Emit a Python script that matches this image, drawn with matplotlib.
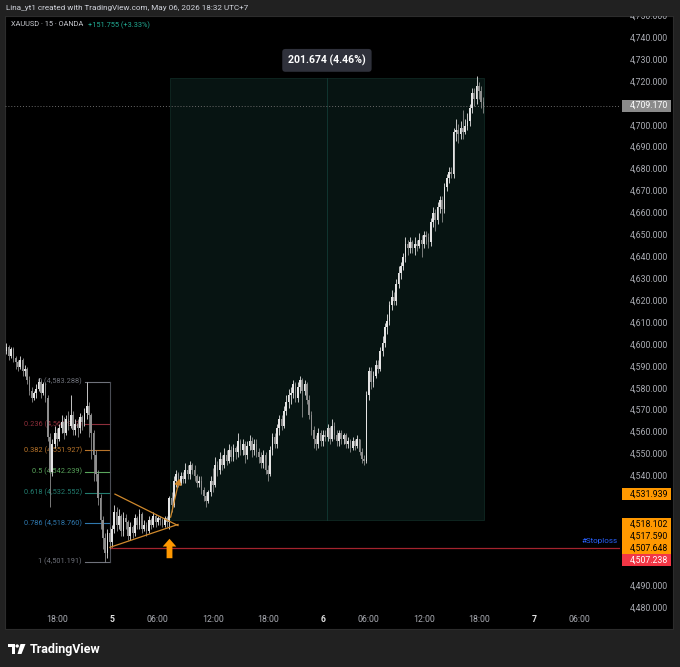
import numpy as np
import matplotlib
matplotlib.use("Agg")
import matplotlib.pyplot as plt
from matplotlib.patches import Rectangle, Polygon, Circle
from matplotlib.path import Path

plt.rcParams['font.family'] = ['Roboto', 'DejaVu Sans']

# ------------------------------------
# data: XAUUSD 15m candles
# ------------------------------------
first_open = 4596
closes = [
    4597, 4599, 4595, 4598, 4594, 4592, 4590, 4593, 4588, 4589,
    4584, 4579, 4576, 4578, 4580, 4583, 4578, 4582, 4576, 4558,
    4542, 4555, 4560, 4557, 4562, 4565, 4560, 4566, 4563, 4568,
    4561, 4564, 4562, 4567, 4565, 4569, 4572, 4568, 4560, 4550,
    4541, 4530, 4520, 4512, 4505, 4514, 4510, 4516, 4524, 4518,
    4522, 4515, 4521, 4519, 4513, 4517, 4514, 4521, 4518, 4523,
    4516, 4518, 4515, 4520, 4518, 4522, 4519, 4521, 4520, 4518,
    4521, 4519, 4530, 4527, 4538, 4541, 4537, 4540, 4539, 4543,
    4541, 4545, 4543, 4540, 4537, 4538, 4534, 4531, 4529, 4533,
    4538, 4536, 4545, 4543, 4548, 4545, 4550, 4547, 4552, 4549,
    4553, 4551, 4556, 4552, 4555, 4550, 4554, 4556, 4552, 4555,
    4551, 4549, 4546, 4550, 4543, 4541, 4552, 4558, 4555, 4562,
    4566, 4563, 4570, 4574, 4577, 4578, 4582, 4576, 4581, 4584,
    4579, 4582, 4575, 4568, 4561, 4557, 4555, 4560, 4556, 4559,
    4558, 4562, 4557, 4563, 4559, 4556, 4560, 4557, 4559, 4555,
    4556, 4553, 4556, 4554, 4557, 4551, 4548, 4547, 4577, 4588,
    4583, 4586, 4591, 4589, 4597, 4601, 4608, 4611, 4618, 4622,
    4620, 4628, 4633, 4636, 4640, 4646, 4644, 4647, 4644, 4646,
    4645, 4648, 4646, 4650, 4649, 4647, 4656, 4660, 4657, 4663,
    4666, 4662, 4672, 4676, 4679, 4678, 4697, 4698, 4696, 4699,
    4697, 4700, 4702, 4708, 4715, 4712, 4718, 4716, 4711, 4709.17,
]
highs = [
    4599, 4601, 4600, 4599, 4599, 4595, 4593, 4595, 4594, 4591,
    4590, 4586, 4581, 4579, 4582, 4585, 4584, 4583, 4583, 4577,
    4560, 4557, 4563, 4562, 4564, 4568, 4567, 4568, 4570, 4577,
    4570, 4566, 4566, 4569, 4568, 4571, 4583.29, 4574, 4569, 4561,
    4552, 4543, 4532, 4522, 4514, 4516, 4517, 4518, 4527, 4526,
    4525, 4523, 4524, 4523, 4520, 4519, 4518, 4523, 4522, 4525,
    4524, 4520, 4519, 4522, 4521, 4524, 4523, 4522, 4522, 4521,
    4522, 4522, 4531, 4533, 4540, 4543, 4542, 4542, 4542, 4546,
    4545, 4547, 4546, 4545, 4541, 4540, 4540, 4535, 4533, 4534,
    4540, 4544, 4549, 4547, 4551, 4550, 4553, 4552, 4555, 4554,
    4555, 4554, 4560, 4557, 4557, 4556, 4556, 4559, 4558, 4557,
    4557, 4553, 4551, 4552, 4551, 4545, 4554, 4560, 4560, 4564,
    4568, 4568, 4572, 4577, 4580, 4581, 4584, 4583, 4583, 4586,
    4585, 4584, 4583, 4577, 4570, 4563, 4559, 4562, 4561, 4561,
    4561, 4564, 4563, 4566, 4565, 4561, 4561, 4561, 4560, 4560,
    4558, 4557, 4558, 4557, 4559, 4557, 4553, 4550, 4579, 4590,
    4590, 4588, 4593, 4593, 4599, 4604, 4610, 4614, 4620, 4625,
    4624, 4630, 4636, 4638, 4642, 4649, 4648, 4649, 4648, 4649,
    4648, 4651, 4650, 4652, 4652, 4651, 4658, 4663, 4662, 4665,
    4668, 4668, 4674, 4678, 4681, 4681, 4699, 4703, 4701, 4702,
    4707, 4703, 4706, 4710, 4717, 4717, 4722.5, 4720, 4718, 4713,
]
lows = [
    4594, 4596, 4593, 4594, 4592, 4589, 4588, 4589, 4586, 4586,
    4582, 4577, 4574, 4575, 4576, 4579, 4576, 4577, 4574, 4556,
    4526, 4540, 4553, 4554, 4556, 4560, 4557, 4559, 4561, 4562,
    4559, 4559, 4558, 4560, 4561, 4563, 4566, 4558, 4548, 4538,
    4538, 4527, 4516, 4507, 4501.19, 4503, 4507, 4508, 4514, 4515,
    4516, 4513, 4513, 4516, 4511, 4511, 4512, 4513, 4516, 4516,
    4514, 4515, 4513, 4514, 4516, 4517, 4517, 4518, 4518, 4517,
    4517, 4517, 4516, 4524, 4526, 4535, 4535, 4536, 4537, 4537,
    4539, 4539, 4541, 4538, 4535, 4535, 4532, 4529, 4526, 4528,
    4531, 4533, 4535, 4540, 4541, 4543, 4544, 4545, 4546, 4547,
    4547, 4548, 4549, 4550, 4550, 4546, 4548, 4552, 4549, 4550,
    4549, 4546, 4544, 4544, 4541, 4538, 4540, 4550, 4553, 4553,
    4559, 4561, 4562, 4568, 4571, 4573, 4576, 4574, 4574, 4578,
    4567, 4577, 4573, 4566, 4559, 4553, 4552, 4553, 4554, 4554,
    4556, 4556, 4555, 4556, 4557, 4554, 4554, 4555, 4555, 4553,
    4553, 4551, 4552, 4552, 4553, 4550, 4546, 4545, 4546, 4575,
    4580, 4581, 4585, 4587, 4588, 4595, 4599, 4605, 4609, 4616,
    4618, 4618, 4626, 4630, 4634, 4638, 4641, 4642, 4642, 4641,
    4643, 4644, 4640, 4644, 4646, 4644, 4645, 4654, 4652, 4655,
    4660, 4656, 4660, 4670, 4674, 4676, 4676, 4693, 4692, 4694,
    4694, 4696, 4698, 4700, 4706, 4709, 4710, 4712, 4708, 4706,
]

# time axis labels (bar index, text)
tick_bars = [23, 47, 67, 91, 115, 139, 159, 183, 207, 231, 251]
tick_labels = ["18:00", "5", "06:00", "12:00", "18:00", "6", "06:00", "12:00", "18:00", "7", "06:00"]
day_labels = {"5", "6", "7"}

# fibonacci retracement
fib_high = 4583.288
fib_low = 4501.191
fib_ratios = [0, 0.236, 0.382, 0.5, 0.618, 0.786, 1]
fib_colors = ["#6f727b", "#8e2f3b", "#b8742a", "#5aa65c", "#237d70", "#2f78ae", "#6f727b"]

# price range measurement
range_low = 4520.035
range_high = 4721.709
range_start, range_end = 72.3, 209.2

# triangle pattern + projection
tri_upper = ([48.3, 75.8], [4531.939, 4517.590])
tri_lower = ([46.1, 75.8], [4507.648, 4518.102])
proj_line = ([72.3, 76.7], [4520.1, 4540.2])
signal_bar = 72

# stoploss / current price
stoploss = 4507.238
stoploss_start = 46.1
last_price = closes[-1]

# coloured price-axis labels
axis_tags = [
    (4531.939, "#ff9800", "#000000"),
    (4518.102, "#ff9800", "#000000"),
    (4517.590, "#ff9800", "#000000"),
    (4507.648, "#ff9800", "#000000"),
    (4507.238, "#f23645", "#ffffff"),
]

# ------------------------------------
# figure layout
# ------------------------------------
W, H = 680, 667
fig = plt.figure(figsize=(W / 100, H / 100), dpi=100, facecolor="#212121")

def fx(px):
    return px / W

def fy(py):
    return 1 - py / H

# black chart panel
fig.add_artist(Rectangle((fx(5), fy(629)), fx(673) - fx(5), fy(16) - fy(629),
                         transform=fig.transFigure, facecolor="#000000", edgecolor="#2c2c2c",
                         lw=0.8, zorder=-5))

ax = fig.add_axes([fx(5), fy(629), fx(620) - fx(5), fy(16) - fy(629)])
ax.set_facecolor("none")
ax.set_xlim(0.35, 268.56)
ax.set_ylim(4470.4, 4750.04)
for s in ax.spines.values():
    s.set_visible(False)
ax.set_xticks([])
ax.set_yticks([])

# ------------------------------------
# price range box
# ------------------------------------
ax.add_patch(Rectangle((range_start, range_low), range_end - range_start, range_high - range_low,
                       facecolor="#071412", edgecolor="#0f2823", lw=0.6, zorder=1))
mid = (range_start + range_end) / 2
ax.plot([mid, mid], [range_low, range_high], color="#113630", lw=0.7, zorder=1)
diff = range_high - range_low
ax.text(mid, 4729.8, f"{diff:.3f} ({diff / range_low * 100:.2f}%)", ha="center", va="center",
        color="white", fontsize=7.6, fontweight="bold", zorder=8,
        bbox=dict(boxstyle="round,pad=0.55,rounding_size=0.3", facecolor="#2f313b", edgecolor="none"))

# ------------------------------------
# fib retracement
# ------------------------------------
for r, col in zip(fib_ratios, fib_colors):
    lvl = fib_high - r * (fib_high - fib_low)
    ax.plot([35.2, 46.1], [lvl, lvl], color=col, lw=0.8, zorder=2)
    ax.text(33.9, lvl, f"{r:g} ({lvl:,.3f})", ha="right", va="center", color=col,
            fontsize=5.3, zorder=2)
ax.plot([46.1, 46.1], [fib_low, fib_high], color="#4a4d55", lw=0.8, zorder=2)

# ------------------------------------
# current price + stoploss lines
# ------------------------------------
ax.axhline(last_price, color="#6a6a6a", lw=0.7, ls=(0, (1, 2)), zorder=2)
ax.plot([stoploss_start, 268.56], [stoploss, stoploss], color="#a3242e", lw=0.9, zorder=2)
ax.text(267.5, stoploss + 3.3, "#Stoploss", ha="right", va="center", color="#2962ff",
        fontsize=5.8, zorder=6)

# ------------------------------------
# candles
# ------------------------------------
c = np.array(closes, dtype=float)
o = np.r_[first_open, c[:-1]]
hi = np.array(highs, dtype=float)
lo = np.array(lows, dtype=float)
idx = np.arange(len(c))
up = c >= o
cols = np.where(up, "#e4e4e4", "#8e8e8e")
ax.vlines(idx, lo, hi, colors=cols, lw=0.6, zorder=4)
body_h = np.maximum(np.abs(c - o), 0.4)
ax.bar(idx, body_h, bottom=np.minimum(o, c), width=0.75, color=cols, lw=0, zorder=4)

# ------------------------------------
# triangle pattern, projection arrow, signal arrow
# ------------------------------------
tri_col = "#d0892c"
ax.plot(*tri_upper, color=tri_col, lw=0.9, zorder=5)
ax.plot(*tri_lower, color=tri_col, lw=0.9, zorder=5)
ax.annotate("", xy=(proj_line[0][1], proj_line[1][1]), xytext=(proj_line[0][0], proj_line[1][0]),
            arrowprops=dict(arrowstyle="-|>,head_length=0.35,head_width=0.2", color=tri_col, lw=0.9),
            zorder=5)
arrow_path = Path([(-0.35, 0.1), (0, 0.5), (0.35, 0.1), (0.15, 0.1), (0.15, -0.5), (-0.15, -0.5),
                   (-0.15, 0.1), (-0.35, 0.1)], closed=True)
ax.plot(signal_bar, lo[signal_bar] - 8.5, marker=arrow_path, markersize=14, color="#ff9800",
        markeredgewidth=0, zorder=6)

# ------------------------------------
# price axis labels
# ------------------------------------
ytr = ax.get_yaxis_transform()
xr = (668 - 5) / 615
box_h = 12 / 2.192
box_x0 = (622 - 5) / 615
box_w = (671 - 622) / 615

# where the coloured tags end up (stacked so they don't overlap)
tag_pos = []
prev = None
for price, face, tc in axis_tags:
    shown = price if prev is None else min(price, prev - box_h)
    tag_pos.append(shown)
    prev = shown
covered = tag_pos + [last_price]

for p in range(4480, 4751, 10):
    if any(abs(p - q) < box_h * 0.95 for q in covered):
        continue
    ax.text(xr, p, f"{p:,.3f}", transform=ytr, ha="right", va="center", color="#a9abb2",
            fontsize=6.3, clip_on=False, zorder=3)

def tag(price, shown, face, txtcol):
    ax.add_patch(Rectangle((box_x0, shown - box_h / 2), box_w, box_h,
                           transform=ytr, facecolor=face, edgecolor="none", clip_on=False, zorder=7))
    ax.text(xr, shown, f"{price:,.3f}", transform=ytr, ha="right", va="center", color=txtcol,
            fontsize=6.3, clip_on=False, zorder=8)

tag(last_price, last_price, "#8a8a8a", "#ffffff")
for (price, face, tc), shown in zip(axis_tags, tag_pos):
    tag(price, shown, face, tc)

# ------------------------------------
# time axis labels
# ------------------------------------
xtr = ax.get_xaxis_transform()
for b, lab in zip(tick_bars, tick_labels):
    is_day = lab in day_labels
    ax.text(b, 9 / 613, lab, transform=xtr, ha="center", va="center",
            color="#e0e0e0" if is_day else "#a9abb2", fontsize=6.3,
            fontweight="bold" if is_day else "normal", clip_on=False)

# ------------------------------------
# header / footer
# ------------------------------------
fig.add_artist(Rectangle((0, fy(16)), 1, fy(0) - fy(16), transform=fig.transFigure,
                         facecolor="#212121", edgecolor="none", zorder=10))
fig.text(fx(6), fy(8), "Lina_yt1 created with TradingView.com, May 06, 2026 18:32 UTC+7",
         color="#d1d4dc", fontsize=5.9, va="center", ha="left", zorder=11)
fig.text(fx(11), fy(25), "XAUUSD · 15 · OANDA", color="#c8cad0", fontsize=5.3,
         va="center", ha="left", zorder=11)
fig.text(fx(88), fy(25), "+151.755 (+3.33%)", color="#22ab94", fontsize=5.3,
         va="center", ha="left", zorder=11)

# TradingView logo
logo_col = "#ffffff"
fig.add_artist(Polygon([(fx(8), fy(644)), (fx(15), fy(644)), (fx(15), fy(654)), (fx(11.5), fy(654)),
                        (fx(11.5), fy(647)), (fx(8), fy(647))], closed=True,
                       transform=fig.transFigure, facecolor=logo_col, edgecolor="none", zorder=11))
fig.add_artist(Circle((fx(17.2), fy(646)), 1.7 / W, transform=fig.transFigure,
                      facecolor=logo_col, edgecolor="none", zorder=11))
fig.add_artist(Polygon([(fx(20.5), fy(644)), (fx(25.5), fy(644)), (fx(21.5), fy(654)), (fx(17.5), fy(654))],
                       closed=True, transform=fig.transFigure, facecolor=logo_col, edgecolor="none",
                       zorder=11))
fig.text(fx(30), fy(649), "TradingView", color="#ffffff", fontsize=9, fontweight="semibold",
         va="center", ha="left", zorder=11)

plt.savefig("out.png", dpi=100, facecolor=fig.get_facecolor())
